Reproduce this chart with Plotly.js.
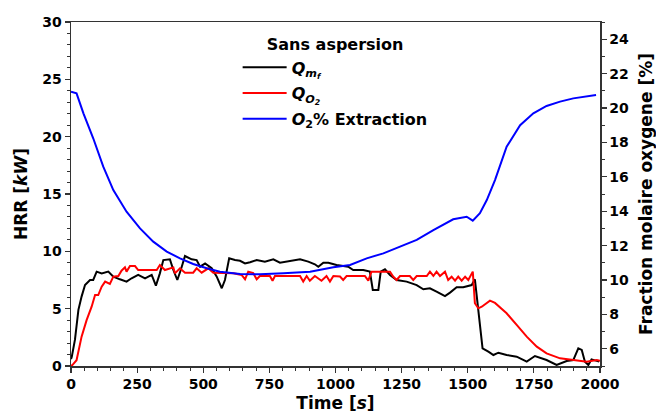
<!DOCTYPE html>
<html>
<head>
<meta charset="utf-8">
<script src="https://cdn.plot.ly/plotly-3.0.1.min.js"></script>
<style>html,body{margin:0;padding:0;background:#fff;}#chart{width:656px;height:417px;}</style>
</head>
<body>
<div id="chart"></div>
<script>
// Q_mf (HRR, kW)
const tBlack = [0,3,15,28,40,53,72,84,97,116,141,160,185,210,229,254,280,305,321,336,349,374,387,402,415,431,456,475,488,507,532,551,570,582,598,620,639,658,677,702,733,765,790,815,866,897,922,935,954,973,1004,1048,1067,1105,1130,1141,1162,1171,1187,1206,1231,1269,1307,1332,1357,1382,1414,1433,1458,1483,1515,1527,1540,1556,1578,1597,1616,1647,1685,1723,1754,1798,1836,1874,1899,1918,1931,1943,1956,1968,1997];
const qBlack = [0.6,0.8,2.3,4.9,6.05,7.06,7.5,7.5,8.23,8.08,8.23,7.79,7.56,7.36,7.65,7.94,7.65,7.94,7.0,8.08,9.24,9.3,8.37,7.5,8.37,9.59,9.3,9.24,8.66,8.95,8.52,7.79,6.78,7.5,9.39,9.24,9.18,8.95,9.05,9.24,9.1,9.3,9.01,9.1,9.3,9.1,8.87,8.66,9.01,9.01,8.81,8.66,8.37,8.37,8.23,6.63,6.63,8.23,8.43,7.94,7.5,7.36,7.06,6.69,6.78,6.48,6.1,6.4,6.86,6.86,7.06,7.56,4.88,1.54,1.25,0.96,1.16,0.96,0.81,0.38,0.87,0.52,0.09,0.44,0.52,1.54,1.4,0.38,0.09,0.58,0.38];
// Q_O2 (HRR, kW)
const tRed = [0,6,21,40,59,78,91,103,116,129,147,160,179,191,204,210,223,242,254,286,324,336,355,387,393,412,431,462,475,494,519,538,589,614,645,658,670,689,702,714,727,752,762,771,866,878,891,903,922,947,966,979,992,1017,1029,1042,1111,1124,1136,1206,1218,1231,1244,1281,1294,1307,1345,1357,1370,1382,1395,1414,1426,1439,1452,1464,1477,1490,1502,1515,1519,1527,1540,1553,1572,1584,1603,1628,1647,1685,1723,1761,1798,1849,1899,1950,1988,2000];
const qRed = [0,0.1,0.5,2.56,4.0,5.17,6.19,6.19,6.92,7.36,7.15,7.79,7.85,8.31,8.6,8.23,8.72,8.72,8.37,8.37,8.37,8.81,8.37,8.6,8.08,8.52,8.14,8.14,8.52,8.14,8.52,8.14,8.14,8.08,7.94,7.56,8.23,8.1,7.56,7.85,7.85,7.85,7.44,7.85,7.85,7.36,7.85,7.44,7.85,7.44,7.85,7.36,7.85,7.8,7.5,7.85,7.85,7.44,8.22,8.22,7.8,7.5,7.85,7.85,7.5,7.85,7.85,8.22,7.85,8.22,7.85,8.22,7.5,7.79,7.44,7.79,7.44,7.79,7.5,8.14,8.23,5.47,5.03,5.17,5.47,5.7,5.5,5.03,4.6,3.58,2.56,1.69,1.1,0.67,0.52,0.38,0.52,0.45];
// O2 % (fraction molaire oxygene)
const tBlue = [0,21,47,84,122,160,210,261,311,362,412,462,513,563,639,714,803,904,992,1055,1118,1181,1244,1307,1370,1395,1445,1496,1519,1546,1572,1603,1647,1698,1748,1798,1849,1899,1950,1985];
const o2Blue = [20.95,20.85,19.69,18.24,16.59,15.23,13.97,13.0,12.23,11.65,11.26,10.93,10.68,10.48,10.35,10.33,10.39,10.48,10.74,10.87,11.26,11.55,11.94,12.33,12.9,13.1,13.53,13.68,13.45,13.88,14.65,15.81,17.75,19.0,19.69,20.12,20.37,20.56,20.66,20.76];

const names = ['<b><i>Q<sub>m<sub>f</sub></sub></i></b>', '<b><i>Q<sub>O<sub>2</sub></sub></i></b>', '<b><i>O</i><sub>2</sub>% Extraction</b>'];
const FONT = 'DejaVu Sans, sans-serif';

const traces = [
  {x: tBlack, y: qBlack, type: 'scatter', mode: 'lines', name: names[0], legendgroup: 'a', line: {color: '#000000', width: 2}},
  {x: tRed, y: qRed, type: 'scatter', mode: 'lines', name: names[1], legendgroup: 'b', line: {color: '#ff0000', width: 2}},
  {x: tBlue, y: o2Blue, type: 'scatter', mode: 'lines', name: names[2], legendgroup: 'c', yaxis: 'y2', line: {color: '#0000ff', width: 2}}
];

const tickfont = {family: FONT, size: 14, color: '#000', weight: 'bold'};
const titlefont = {family: FONT, size: 17, color: '#000', weight: 'bold'};
const layout = {
  width: 656, height: 417,
  margin: {l: 71, r: 56, t: 22, b: 51},
  paper_bgcolor: '#fff', plot_bgcolor: '#fff',
  font: {family: FONT, color: '#000'},
  showlegend: true,
  legend: {
    x: 0.315, y: 0.978, xanchor: 'left', yanchor: 'top',
    bgcolor: 'rgba(0,0,0,0)', borderwidth: 0,
    font: {family: FONT, size: 16, color: '#000', weight: 'bold'},
    title: {text: '<b>Sans aspersion</b>', side: 'top center', font: {family: FONT, size: 16, color: '#000', weight: 'bold'}},
    itemwidth: 44, tracegroupgap: 2
  },
  xaxis: {
    range: [0, 2000], tick0: 0, dtick: 250,
    showgrid: false, zeroline: false,
    showline: true, linecolor: '#333', linewidth: 1.5, mirror: true,
    ticks: 'outside', ticklen: 5, tickwidth: 1.2, tickcolor: '#333',
    minor: {dtick: 50, ticks: 'outside', ticklen: 3, tickcolor: '#333', tickwidth: 1},
    tickfont: tickfont,
    title: {text: '<b>Time [<i>s</i>]</b>', font: titlefont, standoff: 6}
  },
  yaxis: {
    range: [0, 30], tick0: 0, dtick: 5,
    showgrid: false, zeroline: false,
    showline: true, linecolor: '#333', linewidth: 1.5,
    ticks: 'outside', ticklen: 5, tickwidth: 1.2, tickcolor: '#333',
    minor: {dtick: 1, ticks: 'outside', ticklen: 3, tickcolor: '#333', tickwidth: 1},
    tickfont: tickfont,
    title: {text: '<b>HRR [<i>kW</i>]</b>', font: titlefont, standoff: 10}
  },
  yaxis2: {
    overlaying: 'y', side: 'right',
    range: [5, 25], tick0: 6, dtick: 2,
    showgrid: false, zeroline: false,
    showline: true, linecolor: '#333', linewidth: 1.5,
    ticks: 'outside', ticklen: 5, tickwidth: 1.2, tickcolor: '#333',
    minor: {dtick: 1, ticks: 'outside', ticklen: 3, tickcolor: '#333', tickwidth: 1},
    tickfont: tickfont,
    title: {text: '<b>Fraction molaire oxygene [%]</b>', font: titlefont, standoff: 12}
  }
};

Plotly.newPlot('chart', traces, layout, {displayModeBar: false, staticPlot: true});
</script>
</body>
</html>
